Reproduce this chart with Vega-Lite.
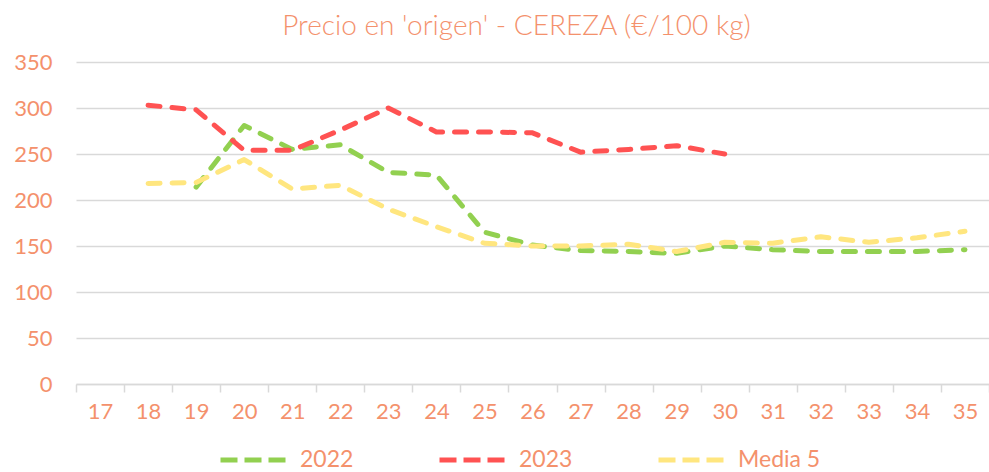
{
  "$schema": "https://vega.github.io/schema/vega-lite/v6.json",
  "width": 913,
  "height": 322,
  "autosize": {"type": "none"},
  "padding": {"left": 76, "top": 62, "right": 0, "bottom": 88},
  "background": "white",
  "title": {
    "text": "Precio en 'origen' - CEREZA (€/100 kg)",
    "font": "Lato",
    "fontWeight": 300,
    "fontSize": 28,
    "color": "#F4916C",
    "anchor": "middle",
    "dx": -16,
    "offset": 10
  },
  "config": {
    "view": {"stroke": null},
    "font": "Lato"
  },
  "data": {
    "values": [
      {"semana": 19, "serie": "2022", "precio": 214},
      {"semana": 20, "serie": "2022", "precio": 281},
      {"semana": 21, "serie": "2022", "precio": 255},
      {"semana": 22, "serie": "2022", "precio": 260},
      {"semana": 23, "serie": "2022", "precio": 230},
      {"semana": 24, "serie": "2022", "precio": 227},
      {"semana": 25, "serie": "2022", "precio": 165},
      {"semana": 26, "serie": "2022", "precio": 151},
      {"semana": 27, "serie": "2022", "precio": 145},
      {"semana": 28, "serie": "2022", "precio": 144},
      {"semana": 29, "serie": "2022", "precio": 142},
      {"semana": 30, "serie": "2022", "precio": 150},
      {"semana": 31, "serie": "2022", "precio": 146},
      {"semana": 32, "serie": "2022", "precio": 144},
      {"semana": 33, "serie": "2022", "precio": 144},
      {"semana": 34, "serie": "2022", "precio": 144},
      {"semana": 35, "serie": "2022", "precio": 146},
      {"semana": 18, "serie": "2023", "precio": 303},
      {"semana": 19, "serie": "2023", "precio": 298},
      {"semana": 20, "serie": "2023", "precio": 254},
      {"semana": 21, "serie": "2023", "precio": 254},
      {"semana": 22, "serie": "2023", "precio": 276},
      {"semana": 23, "serie": "2023", "precio": 300},
      {"semana": 24, "serie": "2023", "precio": 274},
      {"semana": 25, "serie": "2023", "precio": 274},
      {"semana": 26, "serie": "2023", "precio": 273},
      {"semana": 27, "serie": "2023", "precio": 252},
      {"semana": 28, "serie": "2023", "precio": 255},
      {"semana": 29, "serie": "2023", "precio": 259},
      {"semana": 30, "serie": "2023", "precio": 250},
      {"semana": 18, "serie": "Media 5", "precio": 218},
      {"semana": 19, "serie": "Media 5", "precio": 219},
      {"semana": 20, "serie": "Media 5", "precio": 244},
      {"semana": 21, "serie": "Media 5", "precio": 212},
      {"semana": 22, "serie": "Media 5", "precio": 216},
      {"semana": 23, "serie": "Media 5", "precio": 190},
      {"semana": 24, "serie": "Media 5", "precio": 171},
      {"semana": 25, "serie": "Media 5", "precio": 153},
      {"semana": 26, "serie": "Media 5", "precio": 150},
      {"semana": 27, "serie": "Media 5", "precio": 150},
      {"semana": 28, "serie": "Media 5", "precio": 152},
      {"semana": 29, "serie": "Media 5", "precio": 144},
      {"semana": 30, "serie": "Media 5", "precio": 154},
      {"semana": 31, "serie": "Media 5", "precio": 153},
      {"semana": 32, "serie": "Media 5", "precio": 160},
      {"semana": 33, "serie": "Media 5", "precio": 154},
      {"semana": 34, "serie": "Media 5", "precio": 159},
      {"semana": 35, "serie": "Media 5", "precio": 166}
    ]
  },
  "mark": {
    "type": "line",
    "interpolate": "linear",
    "strokeWidth": 5,
    "strokeCap": "round",
    "strokeJoin": "round",
    "strokeDash": [12, 12]
  },
  "encoding": {
    "x": {
      "field": "semana",
      "type": "ordinal",
      "scale": {"domain": [17,18,19,20,21,22,23,24,25,26,27,28,29,30,31,32,33,34,35], "paddingInner": 0, "paddingOuter": 0},
      "axis": {
        "title": null,
        "labelAngle": 0,
        "labelFontSize": 22,
        "labelColor": "#F4916C",
        "labelPadding": 9,
        "tickBand": "extent",
        "tickSize": 8,
        "tickColor": "#D9D9D9",
        "tickWidth": 1.5,
        "domainColor": "#D9D9D9",
        "domainWidth": 1.5,
        "grid": false
      }
    },
    "y": {
      "field": "precio",
      "type": "quantitative",
      "scale": {"domain": [0, 350], "nice": false},
      "axis": {
        "title": null,
        "values": [0, 50, 100, 150, 200, 250, 300, 350],
        "labelFontSize": 22,
        "labelColor": "#F4916C",
        "labelPadding": 24,
        "ticks": false,
        "domain": false,
        "gridColor": "#D9D9D9",
        "gridWidth": 1.5
      }
    },
    "color": {
      "field": "serie",
      "type": "nominal",
      "scale": {"domain": ["2022", "2023", "Media 5"], "range": ["#92D050", "#FF5252", "#FFE67F"]},
      "legend": {
        "title": null,
        "orient": "none",
        "direction": "horizontal",
        "legendX": 142,
        "legendY": 363,
        "symbolType": "stroke",
        "symbolSize": 4225,
        "symbolStrokeWidth": 5,
        "symbolDash": [17, 7],
        "labelFontSize": 23,
        "labelColor": "#F4916C",
        "labelOffset": 12,
        "columnPadding": 75
      }
    }
  }
}
